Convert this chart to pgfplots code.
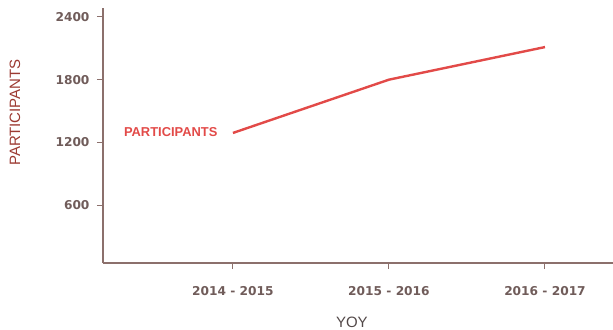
\documentclass[border=0pt]{standalone}
\usepackage{pgfplots}
\pgfplotsset{compat=1.18}
\usepackage{fontspec}
\setmainfont{Liberation Sans}
\newfontfamily\tickfont{DejaVu Sans}
\definecolor{axiscol}{RGB}{140,112,108}
\definecolor{linecol}{RGB}{226,74,72}
\definecolor{ticktext}{RGB}{112,92,90}
\definecolor{ylabcol}{RGB}{156,58,50}
\definecolor{xlabcol}{RGB}{82,72,72}
\begin{document}
\begin{tikzpicture}
\begin{axis}[
  scale only axis,
  width=510bp, height=255bp,
  xmin=-0.833, xmax=2.436,
  ymin=45, ymax=2486,
  axis lines=left,
  axis line style={axiscol, line width=1.2bp, -},
  xtick={0,1,2},
  xticklabels={2014 - 2015, 2015 - 2016, 2016 - 2017},
  ytick={600,1200,1800,2400},
  tick align=outside,
  major tick length=6bp,
  tick style={axiscol, line width=1bp},
  x tick label style={font=\tickfont\fontsize{12.2bp}{14bp}\selectfont\bfseries, text=ticktext, yshift=-14bp},
  y tick label style={font=\tickfont\fontsize{12.2bp}{14bp}\selectfont\bfseries, text=ticktext, xshift=-4bp},
  /pgf/number format/assume math mode=true,
  /pgf/number format/1000 sep={},
  scaled y ticks=false,
  ylabel={PARTICIPANTS},
  ylabel style={at={(axis description cs:-0.1725,0.59)}, anchor=center, rotate=0, font=\fontsize{15bp}{17bp}\selectfont, text=ylabcol},
  xlabel={YOY},
  xlabel style={at={(axis description cs:0.488,-0.231)}, anchor=center, font=\fontsize{15bp}{17bp}\selectfont, text=xlabcol},
  clip=false,
]
\addplot[linecol, line width=2.4bp, mark=none] coordinates {(0,1290) (1,1800) (2,2112)};
\node[anchor=east, text=linecol, font=\fontsize{12.9bp}{14bp}\selectfont\bfseries, xshift=-12bp, yshift=1bp] at (axis cs:0,1290) {PARTICIPANTS};
\end{axis}
\pgfresetboundingbox
\useasboundingbox (-103bp,-67bp) rectangle (510bp,263bp);
\end{tikzpicture}
\end{document}
